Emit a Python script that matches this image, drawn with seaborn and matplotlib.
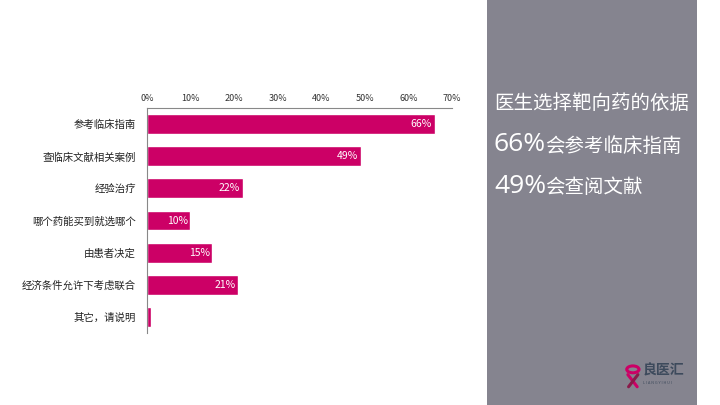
import matplotlib
matplotlib.use('Agg')
import matplotlib.pyplot as plt
from matplotlib.text import Annotation
import seaborn as sns
import pandas as pd

# data
categories = ['参考临床指南', '查临床文献相关案例', '经验治疗', '哪个药能买到就选哪个',
              '由患者决定', '经济条件允许下考虑联合', '其它，请说明']
values = [66, 49, 22, 10, 15, 21, 1]
tick_values = [0, 10, 20, 30, 40, 50, 60, 70]
tick_labels = ['0%', '10%', '20%', '30%', '40%', '50%', '60%', '70%']

df = pd.DataFrame({'reason': categories, 'pct': values})

sns.set_theme(style='white')
plt.rcParams['font.family'] = ['Noto Sans CJK SC', 'DejaVu Sans']

bar_color = '#CC0066'
panel_color = '#85848F'

fig = plt.figure(figsize=(7.2, 4.05), dpi=100)
fig.patch.set_facecolor('white')

# grey side panel
fig.patches.append(plt.Rectangle((0.676, 0), 0.292, 1, transform=fig.transFigure,
                                 facecolor=panel_color, edgecolor='none', zorder=-1))

ax = fig.add_axes([0.204, 0.178, 0.424, 0.555])
sns.barplot(data=df, x='pct', y='reason', color=bar_color, saturation=1,
            width=0.62, ax=ax)

ax.set_xlim(0, 70)
ax.set_xticks(tick_values)
ax.set_xticklabels(tick_labels, fontsize=6.5, color='#333333')
ax.xaxis.tick_top()
ax.tick_params(axis='x', length=0, pad=4)
ax.tick_params(axis='y', length=0, pad=8, labelsize=7.5, labelcolor='#222222')
ax.set_xlabel('')
ax.set_ylabel('')
for side in ['right', 'bottom']:
    ax.spines[side].set_visible(False)
for side in ['top', 'left']:
    ax.spines[side].set_color('#888888')
    ax.spines[side].set_linewidth(0.8)

# value labels inside the bars
for i, v in enumerate(values):
    if v >= 5:
        ax.text(v - 0.6, i, f'{v}%', color='white', fontsize=7.5,
                ha='right', va='center')

# panel texts
fig.text(0.686, 0.744, '医生选择靶向药的依据', color='white', fontsize=14,
         ha='left', va='center')
for y, num, rest in [(0.642, '66%', '会参考临床指南'), (0.54, '49%', '会查阅文献')]:
    t = fig.text(0.686, y, num, color='white', fontsize=19,
                 ha='left', va='center', family=['Open Sans', 'DejaVu Sans'])
    fig.add_artist(Annotation(rest, xy=(0.98, 0.45), xycoords=t, color='white',
                              fontsize=14, ha='left', va='center'))

# logo
fig.text(0.892, 0.084, '良医汇', color='#3d4a5c', fontsize=10,
         ha='left', va='center', fontweight='bold')
fig.text(0.893, 0.055, 'L I A N G Y I H U I', color='#3d4a5c', fontsize=2.8,
         ha='left', va='center')
fig.patches.append(matplotlib.patches.Circle((0.879, 0.088), 0.0085,
                   transform=fig.transFigure, fill=False, edgecolor=bar_color,
                   linewidth=2.2, zorder=3))
fig.lines.append(plt.Line2D([0.872, 0.885], [0.075, 0.045], transform=fig.transFigure,
                            color=bar_color, linewidth=2.2, zorder=3))
fig.lines.append(plt.Line2D([0.886, 0.873], [0.075, 0.045], transform=fig.transFigure,
                            color='#8a1a4a', linewidth=2.2, zorder=3))

fig.savefig('out.png', dpi=100)
